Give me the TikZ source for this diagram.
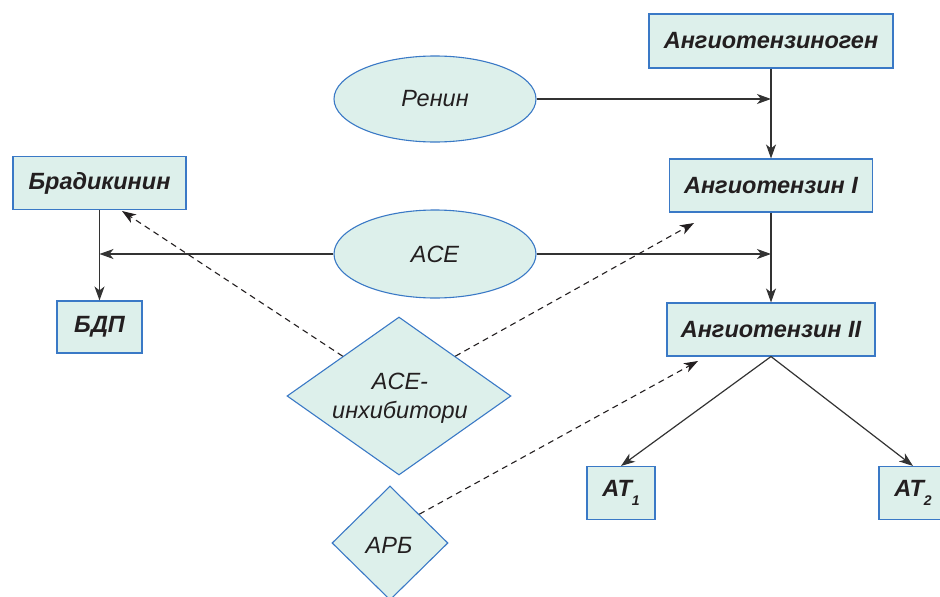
\documentclass[tikz,border=0pt]{standalone}
\usepackage{fontspec}
\setmainfont{Liberation Sans}
\usetikzlibrary{shapes.geometric,arrows.meta}

\definecolor{boxfill}{HTML}{DDF0EB}
\definecolor{boxline}{HTML}{3A79C6}
\definecolor{ink}{HTML}{231F20}
\definecolor{wire}{HTML}{333333}

\newcommand{\labelfont}{\fontsize{23.5}{29}\selectfont}

\tikzset{
  base/.style={draw=boxline, fill=boxfill, line width=1.1pt, inner sep=0pt, text=ink,
    font=\labelfont},
  substance/.style={base, rectangle, font=\labelfont\bfseries\itshape},
  enzyme/.style={base, ellipse, font=\labelfont\itshape},
  drug/.style={base, diamond},
  druglabel/.style={font=\labelfont\itshape, text=ink, align=center, inner sep=0pt},
  flow/.style={draw=wire, line width=1.2pt, -{Stealth[length=14pt,width=10pt,inset=4pt]}},
  block/.style={draw=ink, line width=1.1pt, dash pattern=on 6pt off 4.5pt,
    -{Stealth[length=14pt,width=10pt,inset=4pt]}},
}

\newcommand{\subidx}[1]{\raisebox{-0.38em}{\fontsize{14}{14}\selectfont #1}}

\begin{document}
\begin{tikzpicture}[x=1pt,y=-1pt]
  \useasboundingbox (0,0) rectangle (940,597);

  % substances
  \node[substance, minimum width=244, minimum height=54] (agen) at (771,41) {Ангиотензиноген};
  \node[substance, minimum width=203, minimum height=53] (ang1) at (771,185.5) {Ангиотензин I};
  \node[substance, minimum width=208, minimum height=53] (ang2) at (771,329.5) {Ангиотензин II};
  \node[substance, minimum width=173, minimum height=53] (brad) at (99.5,183) {Брадикинин};
  \node[substance, minimum width=85, minimum height=52] (bdp) at (99.5,327) {БДП};
  \node[substance, minimum width=68, minimum height=53] (at1) at (621,493) {AT\subidx{1}};
  \node[substance, minimum width=68, minimum height=53] (at2) at (913,493) {AT\subidx{2}};

  % enzymes
  \node[enzyme, minimum width=202, minimum height=86] (renin) at (435,99) {Ренин};
  \node[enzyme, minimum width=202, minimum height=88] (ace) at (435,254) {ACE};

  % blocking drugs
  \node[drug, minimum width=224, minimum height=158] (inh) at (399,396) {};
  \node[druglabel] (inhtxt) at (400,398) {ACE-\\инхибитори};
  \node[drug, minimum width=116, minimum height=114] (arb) at (390,543) {};
  \node[druglabel] (arbtxt) at (389,545) {АРБ};

  % cascade
  \draw[flow] (agen.south) -- (agen.south |- ang1.north);
  \draw[flow] (renin.east) -- (renin.east -| agen.south);
  \draw[flow] (ang1.south) -- (ang1.south |- ang2.north);
  \draw[flow] (ace.east) -- (ace.east -| ang1.south);
  \draw[flow] (ace.west) -- (ace.west -| brad.south);
  \draw[flow] (brad.south) -- (brad.south |- bdp.north);
  \draw[flow] (ang2.south) -- (at1.north);
  \draw[flow] (ang2.south) -- (at2.north);

  % inhibition
  \coordinate (tbrad) at (122,211);
  \coordinate (tang1) at (694,223);
  \coordinate (tang2) at (698,361);
  \draw[block] (inh.north west) -- (tbrad);
  \draw[block] (inh.north east) -- (tang1);
  \draw[block] (arb.north east) -- (tang2);
\end{tikzpicture}
\end{document}
